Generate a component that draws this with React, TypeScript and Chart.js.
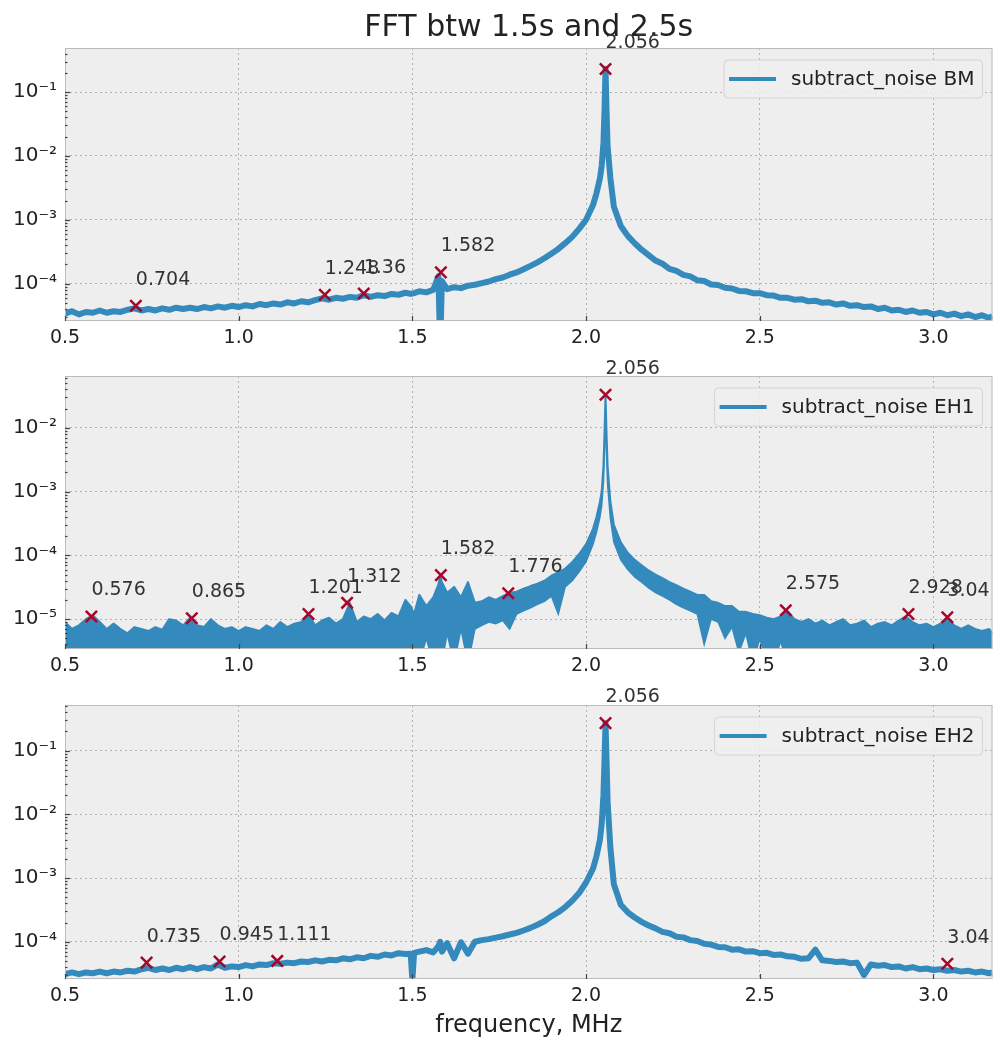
import React, { useEffect, useRef } from "react";
import { Chart, registerables } from "chart.js";

Chart.register(...registerables);

// ---------------- data ----------------
const FREQ_MHZ = [
  0.50, 0.52, 0.54, 0.56, 0.58, 0.60, 0.62, 0.64, 0.66, 0.68, 0.70, 0.72, 0.74, 0.76, 0.78, 0.80, 0.82, 0.84, 0.86, 0.88, 0.90, 0.92, 0.94, 0.96, 0.98,
  1.00, 1.02, 1.04, 1.06, 1.08, 1.10, 1.12, 1.14, 1.16, 1.18, 1.20, 1.22, 1.24, 1.26, 1.28, 1.30, 1.32, 1.34, 1.36, 1.38, 1.40, 1.42, 1.44, 1.46, 1.48,
  1.495, 1.50, 1.505, 1.52, 1.54, 1.56, 1.575, 1.58, 1.585, 1.60, 1.62, 1.64, 1.66, 1.68,
  1.70, 1.72, 1.74, 1.76, 1.78, 1.80, 1.82, 1.84, 1.86, 1.88, 1.90, 1.92, 1.94, 1.96, 1.98, 2.00, 2.02,
  2.03, 2.04, 2.045, 2.05, 2.053, 2.056, 2.059, 2.062, 2.07, 2.08,
  2.10, 2.12, 2.14, 2.16, 2.18, 2.20, 2.22, 2.24, 2.26, 2.28, 2.30, 2.32, 2.34, 2.36, 2.38, 2.40, 2.42, 2.44, 2.46, 2.48, 2.50, 2.52, 2.54, 2.56, 2.58,
  2.60, 2.62, 2.64, 2.66, 2.68, 2.70, 2.72, 2.74, 2.76, 2.78, 2.80, 2.82, 2.84, 2.86, 2.88, 2.90, 2.92, 2.94, 2.96, 2.98, 3.00, 3.02, 3.04, 3.06, 3.08, 3.10, 3.12, 3.14, 3.16, 3.17,
];

const BM_AMP = [
  3.4e-5, 3.7e-5, 3.3e-5, 3.6e-5, 3.5e-5, 3.8e-5, 3.5e-5, 3.7e-5, 3.6e-5, 3.9e-5, 4.1e-5, 3.8e-5, 4.0e-5, 3.8e-5, 4.1e-5, 3.9e-5, 4.2e-5, 4.0e-5, 4.2e-5, 4.0e-5, 4.3e-5, 4.1e-5, 4.4e-5, 4.2e-5, 4.5e-5,
  4.3e-5, 4.6e-5, 4.4e-5, 4.8e-5, 4.6e-5, 4.9e-5, 4.7e-5, 5.1e-5, 4.9e-5, 5.3e-5, 5.1e-5, 5.5e-5, 5.9e-5, 5.6e-5, 6.0e-5, 5.8e-5, 6.2e-5, 6.0e-5, 6.6e-5, 6.2e-5, 6.6e-5, 6.4e-5, 6.9e-5, 6.7e-5, 7.2e-5,
  6.9e-5, 7.0e-5, 7.1e-5, 7.6e-5, 7.3e-5, 8.0e-5, 1.3e-4, 1.0e-5, 1.1e-4, 8.2e-5, 8.8e-5, 8.5e-5, 9.3e-5, 9.6e-5,
  1.02e-4, 1.08e-4, 1.18e-4, 1.25e-4, 1.38e-4, 1.5e-4, 1.68e-4, 1.9e-4, 2.15e-4, 2.5e-4, 2.95e-4, 3.5e-4, 4.3e-4, 5.4e-4, 7.2e-4, 1.0e-3, 1.7e-3,
  2.6e-3, 4.5e-3, 7e-3, 1.6e-2, 5e-2, 2.3e-1, 5e-2, 1.4e-2, 4.5e-3, 1.6e-3,
  8e-4, 5.6e-4, 4.3e-4, 3.4e-4, 2.8e-4, 2.3e-4, 2.05e-4, 1.7e-4, 1.58e-4, 1.37e-4, 1.3e-4, 1.13e-4, 1.1e-4, 9.7e-5, 9.5e-5, 8.6e-5, 8.4e-5, 7.7e-5, 7.6e-5, 7.1e-5, 7.1e-5, 6.6e-5, 6.5e-5, 6.0e-5, 6.0e-5,
  5.6e-5, 5.7e-5, 5.3e-5, 5.4e-5, 5.0e-5, 5.1e-5, 4.7e-5, 4.9e-5, 4.5e-5, 4.6e-5, 4.3e-5, 4.4e-5, 4.0e-5, 4.2e-5, 3.8e-5, 3.9e-5, 3.6e-5, 3.8e-5, 3.5e-5, 3.6e-5, 3.3e-5, 3.5e-5, 3.2e-5, 3.4e-5, 3.1e-5, 3.3e-5, 3.0e-5, 3.2e-5, 2.9e-5, 3.1e-5,
];

// upper edge of the noisy EH1 band
const EH1_AMP = [
  9e-6, 7e-6, 8e-6, 1.0e-5, 1.15e-5, 9e-6, 7e-6, 8.5e-6, 7e-6, 6e-6, 7.5e-6, 7e-6, 6.5e-6, 7.5e-6, 6.8e-6, 1.0e-5, 9.5e-6, 8e-6, 1.05e-5, 8e-6, 7.5e-6, 1.0e-5, 8e-6, 7e-6, 7.5e-6,
  6.5e-6, 7.5e-6, 7e-6, 6.5e-6, 8e-6, 7e-6, 9e-6, 7.5e-6, 8.5e-6, 9e-6, 1.2e-5, 8e-6, 9.5e-6, 1.05e-5, 8.5e-6, 1.0e-5, 1.8e-5, 9e-6, 1.1e-5, 1.0e-5, 1.2e-5, 9.5e-6, 1.25e-5, 1.1e-5, 2.0e-5,
  1.6e-5, 1.4e-5, 1.2e-5, 2.4e-5, 1.6e-5, 2.2e-5, 3.5e-5, 4.9e-5, 3.8e-5, 2.6e-5, 3.2e-5, 2.2e-5, 3.8e-5, 1.8e-5,
  1.9e-5, 2.2e-5, 2.0e-5, 2.3e-5, 2.6e-5, 2.7e-5, 3.0e-5, 3.3e-5, 3.6e-5, 4.0e-5, 4.8e-5, 5.4e-5, 6.2e-5, 7.8e-5, 1.05e-4, 1.5e-4, 2.6e-4,
  4e-4, 7e-4, 1.0e-3, 2.5e-3, 8e-3, 3.3e-2, 8e-3, 2.5e-3, 7e-4, 3e-4,
  1.6e-4, 1.1e-4, 8.5e-5, 7e-5, 5.8e-5, 5e-5, 4.4e-5, 3.8e-5, 3.4e-5, 3.0e-5, 2.7e-5, 2.4e-5, 2.4e-5, 1.9e-5, 1.8e-5, 1.6e-5, 1.6e-5, 1.3e-5, 1.3e-5, 1.2e-5, 1.15e-5, 1.05e-5, 1.0e-5, 1.1e-5, 1.35e-5,
  1.0e-5, 9e-6, 1.0e-5, 8.5e-6, 9.5e-6, 8e-6, 9e-6, 1.0e-5, 8e-6, 8.5e-6, 9.5e-6, 7.5e-6, 8.5e-6, 9e-6, 8e-6, 9.5e-6, 1.1e-5, 9e-6, 8e-6, 8.5e-6, 7.5e-6, 8.5e-6, 1.05e-5, 8e-6, 7e-6, 8e-6, 7e-6, 6.5e-6, 7e-6, 6e-6,
];

// lower edge of the noisy EH1 band (values under the axis floor mean "reaches the bottom")
const EH1_FLOOR = [
  2e-6, 2e-6, 2e-6, 2e-6, 2e-6, 2e-6, 2e-6, 2e-6, 2e-6, 2e-6, 2e-6, 2e-6, 2e-6, 2e-6, 2e-6, 2e-6, 2e-6, 2e-6, 2e-6, 2e-6, 2e-6, 2e-6, 2e-6, 2e-6, 2e-6,
  2e-6, 2e-6, 2e-6, 2e-6, 2e-6, 2e-6, 2e-6, 2e-6, 2e-6, 2e-6, 2e-6, 2e-6, 2e-6, 2e-6, 2e-6, 2e-6, 2e-6, 2e-6, 2e-6, 2e-6, 2e-6, 2e-6, 2e-6, 2e-6, 2e-6,
  2e-6, 2e-6, 2e-6, 2e-6, 5e-6, 2e-6, 2e-6, 2e-6, 2e-6, 6e-6, 2e-6, 7e-6, 2e-6, 7e-6,
  8e-6, 9e-6, 8.5e-6, 9.5e-6, 7e-6, 1.2e-5, 1.35e-5, 1.5e-5, 1.7e-5, 1.9e-5, 2.3e-5, 1.2e-5, 3.2e-5, 4e-5, 5.5e-5, 8e-5, 1.5e-4,
  2.3e-4, 4e-4, 6e-4, 1.4e-3, 4e-3, 1.5e-2, 4e-3, 1.3e-3, 3.8e-4, 1.6e-4,
  8.5e-5, 6e-5, 4.6e-5, 3.8e-5, 3.1e-5, 2.6e-5, 2.3e-5, 2.0e-5, 1.7e-5, 1.5e-5, 1.35e-5, 1.2e-5, 4e-6, 1.0e-5, 9e-6, 5e-6, 7.5e-6, 3e-6, 6e-6, 2e-6, 5e-6, 2e-6, 2e-6, 4.5e-6, 2e-6,
  2e-6, 2e-6, 2e-6, 2e-6, 2e-6, 2e-6, 2e-6, 2e-6, 2e-6, 2e-6, 2e-6, 2e-6, 2e-6, 2e-6, 2e-6, 2e-6, 2e-6, 2e-6, 2e-6, 2e-6, 2e-6, 2e-6, 2e-6, 2e-6, 2e-6, 2e-6, 2e-6, 2e-6, 2e-6, 2e-6,
];

const EH2_AMP = [
  3.1e-5, 3.3e-5, 3.1e-5, 3.3e-5, 3.2e-5, 3.4e-5, 3.2e-5, 3.4e-5, 3.3e-5, 3.5e-5, 3.4e-5, 3.7e-5, 3.9e-5, 3.6e-5, 3.8e-5, 3.6e-5, 3.9e-5, 3.7e-5, 4.0e-5, 3.7e-5, 4.0e-5, 3.8e-5, 4.4e-5, 3.9e-5, 4.1e-5,
  4.0e-5, 4.3e-5, 4.1e-5, 4.4e-5, 4.3e-5, 4.6e-5, 4.5e-5, 4.7e-5, 4.6e-5, 4.9e-5, 4.8e-5, 5.1e-5, 4.9e-5, 5.2e-5, 5.1e-5, 5.5e-5, 5.3e-5, 5.7e-5, 5.5e-5, 6.0e-5, 5.8e-5, 6.3e-5, 6.1e-5, 6.6e-5, 6.4e-5,
  6.5e-5, 2.5e-5, 6.7e-5, 7.0e-5, 7.4e-5, 6.8e-5, 8.5e-5, 1.0e-4, 7e-5, 9.5e-5, 5.5e-5, 9.8e-5, 6.5e-5, 1.0e-4,
  1.06e-4, 1.1e-4, 1.16e-4, 1.22e-4, 1.3e-4, 1.38e-4, 1.5e-4, 1.65e-4, 1.85e-4, 2.1e-4, 2.5e-4, 2.9e-4, 3.5e-4, 4.4e-4, 5.8e-4, 8.5e-4, 1.4e-3,
  2.2e-3, 4e-3, 7e-3, 2e-2, 7e-2, 2.7e-1, 7e-2, 1.6e-2, 3e-3, 8e-4,
  3.8e-4, 2.9e-4, 2.4e-4, 2.05e-4, 1.8e-4, 1.62e-4, 1.43e-4, 1.36e-4, 1.2e-4, 1.17e-4, 1.06e-4, 1.03e-4, 9.3e-5, 9.0e-5, 8.3e-5, 8.2e-5, 7.5e-5, 7.6e-5, 7.0e-5, 7.1e-5, 6.6e-5, 6.7e-5, 6.2e-5, 6.3e-5, 5.9e-5,
  5.8e-5, 5.4e-5, 5.5e-5, 7.5e-5, 5.1e-5, 5.0e-5, 4.8e-5, 4.9e-5, 4.6e-5, 4.7e-5, 3.0e-5, 4.4e-5, 4.2e-5, 4.3e-5, 4.0e-5, 4.1e-5, 3.8e-5, 4.0e-5, 3.7e-5, 3.8e-5, 3.6e-5, 3.7e-5, 3.5e-5, 3.6e-5, 3.4e-5, 3.5e-5, 3.3e-5, 3.4e-5, 3.2e-5, 3.3e-5,
];

const BM_PEAK_FREQ = [0.704, 1.248, 1.36, 1.582, 2.056];
const BM_PEAK_AMP = [4.5e-5, 6.7e-5, 7.0e-5, 1.5e-4, 0.23];
const BM_PEAK_TEXT = ["0.704", "1.248", "1.36", "1.582", "2.056"];

const EH1_PEAK_FREQ = [0.576, 0.865, 1.201, 1.312, 1.582, 1.776, 2.056, 2.575, 2.928, 3.04];
const EH1_PEAK_AMP = [1.1e-5, 1.03e-5, 1.2e-5, 1.8e-5, 4.9e-5, 2.55e-5, 0.033, 1.38e-5, 1.2e-5, 1.07e-5];
const EH1_PEAK_TEXT = ["0.576", "0.865", "1.201", "1.312", "1.582", "1.776", "2.056", "2.575", "2.928", "3.04"];

const EH2_PEAK_FREQ = [0.735, 0.945, 1.111, 2.056, 3.04];
const EH2_PEAK_AMP = [4.7e-5, 4.9e-5, 5.0e-5, 0.27, 4.5e-5];
const EH2_PEAK_TEXT = ["0.735", "0.945", "1.111", "2.056", "3.04"];

const X_TICKS = [0.5, 1.0, 1.5, 2.0, 2.5, 3.0];
const BM_Y_TICKS = [1e-4, 1e-3, 1e-2, 1e-1];
const BM_Y_TICK_TEXT = ["10⁻⁴", "10⁻³", "10⁻²", "10⁻¹"];
const EH1_Y_TICKS = [1e-5, 1e-4, 1e-3, 1e-2];
const EH1_Y_TICK_TEXT = ["10⁻⁵", "10⁻⁴", "10⁻³", "10⁻²"];
const EH2_Y_TICKS = [1e-4, 1e-3, 1e-2, 1e-1];
const EH2_Y_TICK_TEXT = ["10⁻⁴", "10⁻³", "10⁻²", "10⁻¹"];

const TITLE = "FFT btw 1.5s and 2.5s";
const X_LABEL = "frequency, MHz";

// ---------------- style ----------------
const FONT = '"DejaVu Sans", "Liberation Sans", sans-serif';
const BLUE = "#348ABD";
const RED = "#A60628";
const TEXT = "#222222";

type PanelSpec = {
  lineLabel: string;
  amp: number[];
  floor?: number[];
  peakFreq: number[];
  peakAmp: number[];
  peakText: string[];
  yMin: number;
  yMax: number;
  yTicks: number[];
  yTickText: string[];
  top: number;
  height: number;
  padTop: number;
  xAxisHeight: number;
  title?: string;
  xTitle?: string;
};

const PANELS: PanelSpec[] = [
  {
    lineLabel: "subtract_noise BM", amp: BM_AMP,
    peakFreq: BM_PEAK_FREQ, peakAmp: BM_PEAK_AMP, peakText: BM_PEAK_TEXT,
    yMin: 2.6e-5, yMax: 0.49, yTicks: BM_Y_TICKS, yTickText: BM_Y_TICK_TEXT,
    top: 0, height: 345, padTop: 0, xAxisHeight: 24, title: TITLE,
  },
  {
    lineLabel: "subtract_noise EH1", amp: EH1_AMP, floor: EH1_FLOOR,
    peakFreq: EH1_PEAK_FREQ, peakAmp: EH1_PEAK_AMP, peakText: EH1_PEAK_TEXT,
    yMin: 3.4e-6, yMax: 0.065, yTicks: EH1_Y_TICKS, yTickText: EH1_Y_TICK_TEXT,
    top: 345, height: 335, padTop: 31, xAxisHeight: 31,
  },
  {
    lineLabel: "subtract_noise EH2", amp: EH2_AMP,
    peakFreq: EH2_PEAK_FREQ, peakAmp: EH2_PEAK_AMP, peakText: EH2_PEAK_TEXT,
    yMin: 2.6e-5, yMax: 0.52, yTicks: EH2_Y_TICKS, yTickText: EH2_Y_TICK_TEXT,
    top: 680, height: 362, padTop: 25, xAxisHeight: 63, xTitle: X_LABEL,
  },
];

function toPoints(xs: number[], ys: number[]) {
  return xs.map((x, i) => ({ x, y: ys[i] }));
}

function makePlugin(spec: PanelSpec) {
  return {
    id: "mplLook",
    beforeDraw(chart: any) {
      const { ctx, chartArea: a } = chart;
      ctx.save();
      ctx.fillStyle = "#eeeeee";
      ctx.fillRect(a.left, a.top, a.right - a.left, a.bottom - a.top);
      ctx.restore();
    },
    afterDatasetsDraw(chart: any) {
      const { ctx, chartArea: a, scales } = chart;
      const xs = scales.x;
      const ys = scales.y;
      ctx.save();
      // frame
      ctx.strokeStyle = "#bcbcbc";
      ctx.lineWidth = 1;
      ctx.strokeRect(a.left + 0.5, a.top + 0.5, a.right - a.left - 1, a.bottom - a.top - 1);
      // inward ticks
      const seg = (x1: number, y1: number, x2: number, y2: number) => {
        ctx.beginPath();
        ctx.moveTo(x1, y1);
        ctx.lineTo(x2, y2);
        ctx.stroke();
      };
      ctx.strokeStyle = "#444444";
      ctx.lineWidth = 1.2;
      xs.ticks.forEach((t: any) => {
        const px = Math.round(xs.getPixelForValue(t.value)) + 0.5;
        seg(px, a.bottom, px, a.bottom - 5);
      });
      ys.ticks.forEach((t: any) => {
        const py = Math.round(ys.getPixelForValue(t.value)) + 0.5;
        seg(a.left, py, a.left + 5, py);
      });
      const lo = Math.floor(Math.log10(ys.min));
      const hi = Math.ceil(Math.log10(ys.max));
      for (let e = lo; e <= hi; e++) {
        for (let k = 2; k <= 9; k++) {
          const v = k * Math.pow(10, e);
          if (v > ys.min && v < ys.max) {
            const py = Math.round(ys.getPixelForValue(v)) + 0.5;
            seg(a.left, py, a.left + 2.5, py);
          }
        }
      }
      // peak annotations
      ctx.font = `19px ${FONT}`;
      ctx.fillStyle = "#333333";
      ctx.textAlign = "left";
      ctx.textBaseline = "alphabetic";
      spec.peakFreq.forEach((f, i) => {
        const px = xs.getPixelForValue(f);
        const py = ys.getPixelForValue(spec.peakAmp[i]);
        ctx.fillText(spec.peakText[i], px, py - 21);
      });
      // legend
      ctx.font = `20px ${FONT}`;
      const tw = ctx.measureText(spec.lineLabel).width;
      const h = 38;
      const w = 5 + 47 + 15 + tw + 8;
      const right = a.right - 10;
      const left = right - w;
      const top = a.top + 12;
      ctx.beginPath();
      if ((ctx as any).roundRect) (ctx as any).roundRect(left, top, w, h, 4);
      else ctx.rect(left, top, w, h);
      ctx.fillStyle = "rgba(238,238,238,0.85)";
      ctx.fill();
      ctx.strokeStyle = "#d4d4d4";
      ctx.lineWidth = 1;
      ctx.stroke();
      ctx.strokeStyle = BLUE;
      ctx.lineWidth = 4;
      seg(left + 5, top + h / 2, left + 52, top + h / 2);
      ctx.fillStyle = TEXT;
      ctx.textBaseline = "middle";
      ctx.fillText(spec.lineLabel, left + 67, top + h / 2 + 1);
      ctx.restore();
    },
  };
}

function Panel({ spec }: { spec: PanelSpec }) {
  const ref = useRef<HTMLCanvasElement | null>(null);
  useEffect(() => {
    if (!ref.current) return;
    const datasets: any[] = [
      {
        label: "peaks",
        data: toPoints(spec.peakFreq, spec.peakAmp),
        showLine: false,
        pointStyle: "crossRot",
        pointRadius: 8,
        pointBorderColor: RED,
        pointBackgroundColor: RED,
        pointBorderWidth: 2.5,
        order: 0,
        clip: false,
      },
      {
        label: spec.lineLabel,
        data: toPoints(FREQ_MHZ, spec.amp),
        borderColor: BLUE,
        backgroundColor: BLUE,
        borderWidth: spec.floor ? 2 : 6,
        borderJoinStyle: "round",
        pointRadius: 0,
        tension: 0,
        fill: false,
        order: 1,
        clip: 0,
      },
    ];
    if (spec.floor) {
      datasets.push({
        label: "noise floor",
        data: toPoints(FREQ_MHZ, spec.floor),
        borderColor: BLUE,
        backgroundColor: BLUE,
        borderWidth: 1.5,
        pointRadius: 0,
        tension: 0,
        fill: "-1",
        order: 2,
        clip: 0,
      });
    }
    const gridOpts = { color: "rgba(170,170,170,0.9)", lineWidth: 1, drawTicks: false };
    const chart = new Chart(ref.current, {
      type: "line",
      data: { datasets },
      options: {
        responsive: false,
        animation: false,
        devicePixelRatio: 1,
        events: [],
        layout: { padding: { top: spec.title ? 0 : spec.padTop, left: 0, right: 3, bottom: 0 } },
        plugins: {
          legend: { display: false },
          tooltip: { enabled: false },
          title: {
            display: !!spec.title,
            text: spec.title || "",
            color: TEXT,
            font: { family: FONT, size: 30, weight: "normal" },
            padding: { top: 10, bottom: 2 },
            fullSize: false,
          },
        },
        scales: {
          x: {
            type: "linear",
            min: 0.5,
            max: 3.17,
            afterBuildTicks: (s: any) => {
              s.ticks = X_TICKS.map((v) => ({ value: v }));
            },
            afterFit: (s: any) => {
              s.height = spec.xAxisHeight;
            },
            ticks: {
              callback: (v: any) => Number(v).toFixed(1),
              font: { family: FONT, size: 19 },
              color: TEXT,
              padding: 6,
              maxRotation: 0,
              autoSkip: false,
            },
            grid: gridOpts,
            border: { display: false, dash: [2, 3] },
            title: {
              display: !!spec.xTitle,
              text: spec.xTitle || "",
              color: TEXT,
              font: { family: FONT, size: 24 },
              padding: { top: 0, bottom: 2 },
            },
          },
          y: {
            type: "logarithmic",
            min: spec.yMin,
            max: spec.yMax,
            afterBuildTicks: (s: any) => {
              s.ticks = spec.yTicks.map((v) => ({ value: v }));
            },
            afterFit: (s: any) => {
              s.width = 65;
            },
            ticks: {
              callback: (v: any) => {
                const i = spec.yTicks.findIndex((t) => Math.abs(t - v) <= t * 1e-6);
                return i >= 0 ? spec.yTickText[i] : "";
              },
              font: { family: FONT, size: 20 },
              color: TEXT,
              padding: 8,
              autoSkip: false,
            },
            grid: gridOpts,
            border: { display: false, dash: [2, 3] },
          },
        },
      },
      plugins: [makePlugin(spec)],
    } as any);
    return () => chart.destroy();
  }, [spec]);
  return (
    <canvas
      ref={ref}
      width={1003}
      height={spec.height}
      style={{ position: "absolute", left: 0, top: spec.top, width: 1003, height: spec.height, display: "block" }}
    />
  );
}

export default function App() {
  return (
    <div style={{ position: "absolute", left: 0, top: 0, width: 1003, height: 1042, background: "#ffffff", overflow: "hidden" }}>
      {PANELS.map((p, i) => (
        <Panel key={i} spec={p} />
      ))}
    </div>
  );
}
